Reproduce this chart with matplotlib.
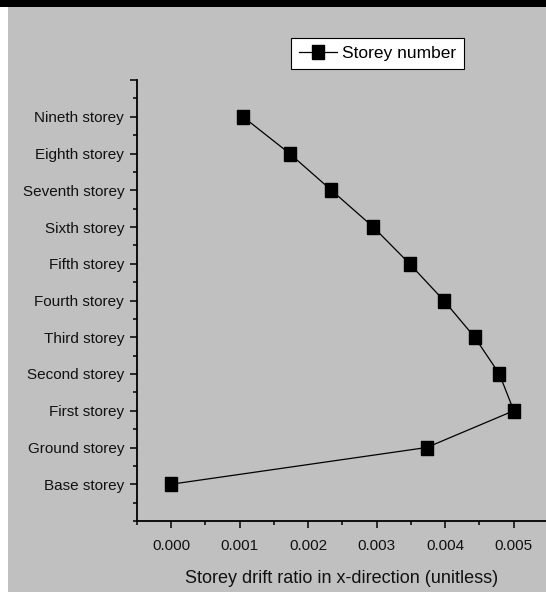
import matplotlib
matplotlib.use("Agg")
import matplotlib.pyplot as plt
from matplotlib.patches import Rectangle
from matplotlib.ticker import MultipleLocator

plt.rcParams['font.family'] = ['Liberation Sans', 'DejaVu Sans']

# storey labels, bottom to top
storeys = ['Base storey', 'Ground storey', 'First storey', 'Second storey',
           'Third storey', 'Fourth storey', 'Fifth storey', 'Sixth storey',
           'Seventh storey', 'Eighth storey', 'Nineth storey']
levels = list(range(len(storeys)))
drift_x = [0.0, 0.00373, 0.00500, 0.00479, 0.00443, 0.00398,
           0.00348, 0.00295, 0.00234, 0.00173, 0.00105]
x_ticks = [0.000, 0.001, 0.002, 0.003, 0.004, 0.005]

W, H = 546, 592
fig = plt.figure(figsize=(W / 100, H / 100), dpi=100, facecolor='white')

# grey panel, black bar on top (behind the axes)
fig.add_artist(Rectangle((8 / W, 0), 1 - 8 / W, 1, transform=fig.transFigure,
                         facecolor='#c0c0c0', edgecolor='none', zorder=-10))
fig.add_artist(Rectangle((0, 1 - 7 / H), 1, 7 / H, transform=fig.transFigure,
                         facecolor='black', edgecolor='none', zorder=-9))

left = 136.7 / W
bottom = 71 / H
ax = fig.add_axes([left, bottom, 1 - left, (521 - 80) / H])
ax.set_facecolor('none')
ax.set_zorder(1)

# squashed square marker like the original
sq = [(-0.41, -0.5), (0.41, -0.5), (0.41, 0.5), (-0.41, 0.5), (-0.41, -0.5)]
ax.plot(drift_x, levels, color='black', lw=0.9, marker=sq, markersize=10.5,
        markerfacecolor='black', markeredgecolor='black', label='Storey number')

ax.set_xlim(-0.0005, 0.00547)
ax.set_ylim(-1, 11)
ax.set_xticks(x_ticks)
ax.set_xticklabels([f'{v:.3f}' for v in x_ticks])
ax.xaxis.set_minor_locator(MultipleLocator(0.0005))
ax.set_yticks(levels + [11])
ax.set_yticklabels(storeys + [''])
ax.yaxis.set_minor_locator(MultipleLocator(0.5))

for s in ['top', 'right']:
    ax.spines[s].set_visible(False)
for s in ['left', 'bottom']:
    ax.spines[s].set_linewidth(1.3)
ax.tick_params(which='major', direction='out', length=5, width=1.1,
               labelsize=11, labelcolor='#111111')
ax.tick_params(axis='x', which='major', pad=8)
ax.tick_params(axis='y', which='major', pad=4)
ax.tick_params(which='minor', direction='out', length=3, width=1.1)

ax.set_xlabel('Storey drift ratio in x-direction (unitless)', fontsize=13,
              color='#111111', labelpad=12)

leg = ax.legend(loc='upper left', bbox_to_anchor=(291 / W, 1 - 38 / H),
                bbox_transform=fig.transFigure, fontsize=12.5, frameon=True,
                fancybox=False, framealpha=1, edgecolor='black',
                handlelength=2.2, handletextpad=0.3, borderpad=0.45,
                borderaxespad=0)
leg.get_frame().set_linewidth(0.8)

fig.savefig('out.png', dpi=100, facecolor=fig.get_facecolor())
